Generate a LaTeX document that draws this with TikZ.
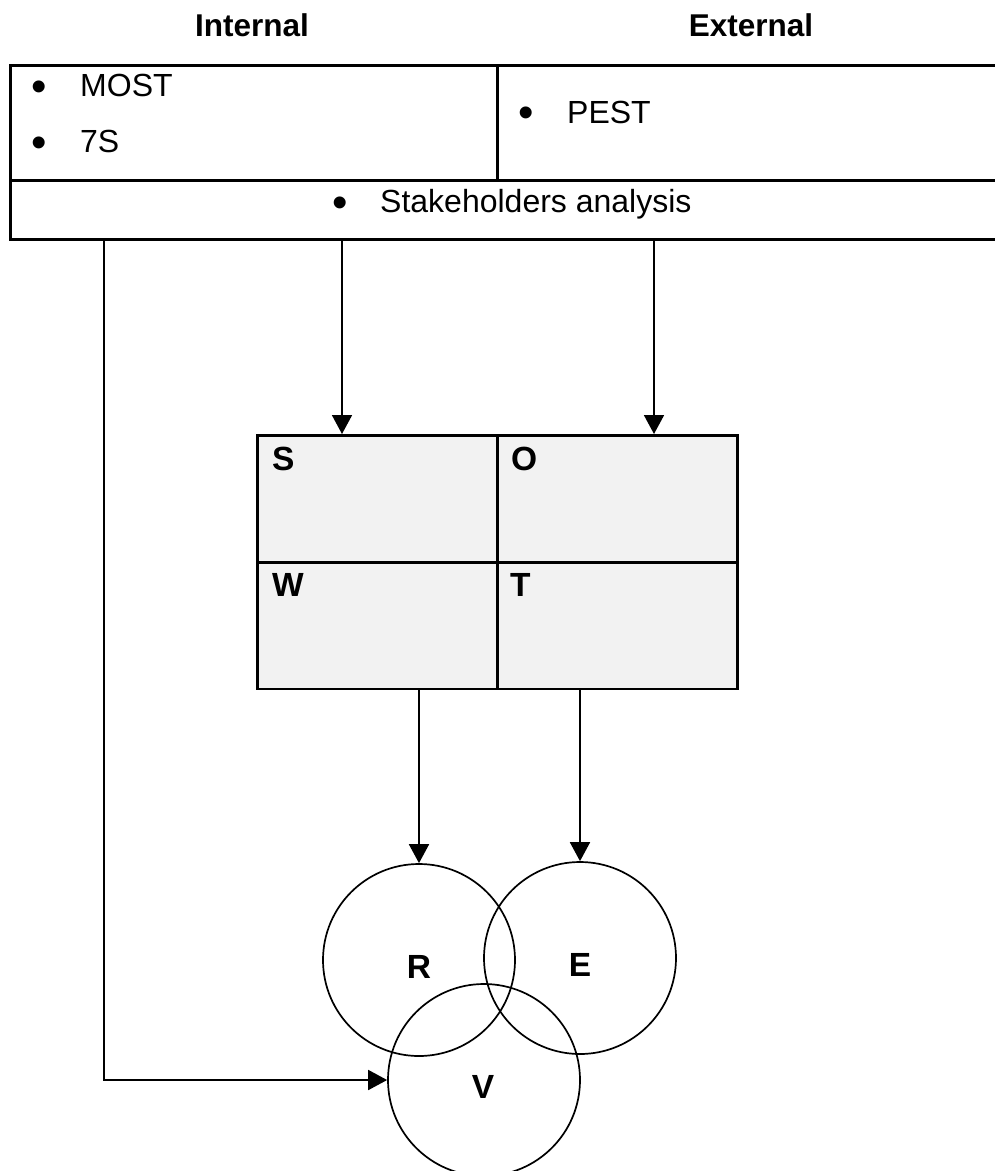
\documentclass[tikz,border=0pt]{standalone}
\usepackage{fontspec}
\setmainfont{Liberation Sans}
\usetikzlibrary{arrows.meta,calc}
\definecolor{swotgray}{HTML}{F2F2F2}
\begin{document}
\begin{tikzpicture}[x=1pt,y=-1pt,
  cell/.style={draw,line width=2.6pt,rectangle,inner sep=0pt,anchor=north west},
  swot/.style={draw,line width=2.6pt,fill=swotgray,rectangle,inner sep=0pt,
    anchor=north west,minimum width=240pt,minimum height=126.5pt},
  ring/.style={draw,circle,line width=1.7pt,minimum size=192pt,inner sep=0pt},
  body/.style={font=\fontsize{32}{38}\selectfont,inner sep=0pt,anchor=base west},
  dot/.style={font=\fontsize{44}{48}\selectfont,inner sep=0pt},
  head/.style={font=\fontsize{31.5}{37}\selectfont\bfseries,inner sep=0pt,anchor=base},
  letter/.style={font=\fontsize{33.5}{40}\selectfont\bfseries,inner sep=0pt},
  flow/.style={line width=1.8pt,-{Triangle[width=20pt,length=19pt]}}]

\useasboundingbox (0,0) rectangle (995,1171);

% column headings
\node[head] (hint) at (252,36) {Internal};
\node[head] (hext) at (751,36) {External};

% analysis table (open to the right)
\node[cell,minimum width=487pt,minimum height=115pt] (intcell) at (9,64) {};
\node[cell,minimum width=512pt,minimum height=115pt] (extcell) at (496,64) {};
\node[cell,minimum width=999pt,minimum height=59pt] (stake) at (9,179) {};

\node[dot] (b1) at (39,91) {•};
\node[body] (most) at (80,96) {MOST};
\node[dot] (b2) at (39,147) {•};
\node[body] (sev) at (80,152) {7S};
\node[dot] (b3) at (526,117) {•};
\node[body] (pest) at (567,123) {PEST};
\node[dot] (b4) at (340,207) {•};
\node[body] (stk) at (380,212) {Stakeholders analysis};

% SWOT grid
\node[swot] (S) at (256,434) {};
\node[swot] (O) at (496,434) {};
\node[swot] (W) at (256,561) {};
\node[swot] (T) at (496,561) {};
\node[letter,anchor=base west] (ls) at (272,470) {S};
\node[letter,anchor=base west] (lo) at (511,470) {O};
\node[letter,anchor=base west] (lw) at (272,596) {W};
\node[letter,anchor=base west] (lt) at (510,596) {T};

% overlapping circles
\node[ring] (R) at (419,960) {};
\node[ring] (E) at (580,958) {};
\node[ring] (V) at (484,1080) {};
\node[letter,anchor=base] (lr) at (419,978) {R};
\node[letter,anchor=base] (le) at (580,976) {E};
\node[letter,anchor=base] (lv) at (483,1098) {V};

% connector columns
\coordinate (c0) at (104,0);
\coordinate (c1) at (342,0);
\coordinate (c2) at (654,0);

\draw[flow] (stake.south -| c1) -- (S.north -| c1);
\draw[flow] (stake.south -| c2) -- (O.north -| c2);
\draw[flow] (stake.south -| c0) |- (V.west);
\draw[flow] (W.south -| R.north) -- (R.north);
\draw[flow] (T.south -| E.north) -- (E.north);
\end{tikzpicture}
\end{document}
